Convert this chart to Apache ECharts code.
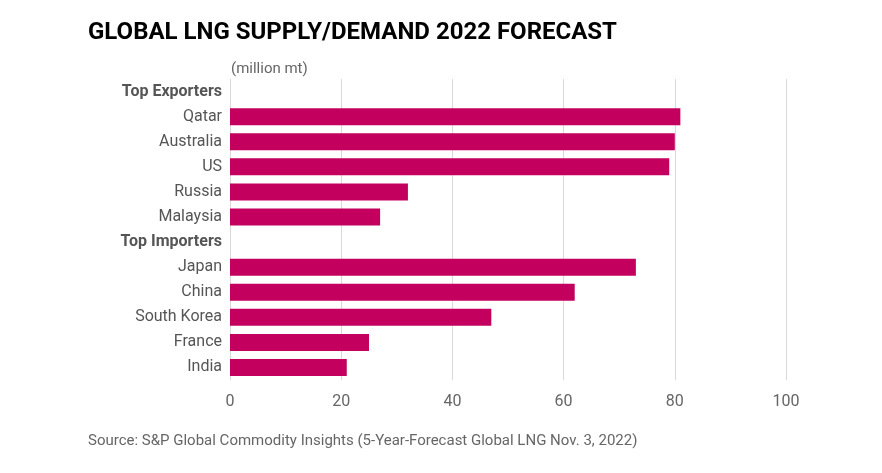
<!DOCTYPE html>
<html>
<head>
<meta charset="utf-8">
<script src="https://cdn.jsdelivr.net/npm/echarts@6/dist/echarts.min.js"></script>
<style>
  html, body { margin: 0; padding: 0; background: #fff; }
  #chart { width: 882px; height: 473px; }
</style>
</head>
<body>
<div id="chart"></div>
<script>
// rows, top to bottom; header rows carry no value
var categories = ['Top Exporters', 'Qatar', 'Australia', 'US', 'Russia', 'Malaysia',
                  'Top Importers', 'Japan', 'China', 'South Korea', 'France', 'India'];
var values = [null, 81, 80, 79, 32, 27, null, 73, 62, 47, 25, 21];
var headers = ['Top Exporters', 'Top Importers'];
var xTicks = [0, 20, 40, 60, 80, 100];

var chart = echarts.init(document.getElementById('chart'));
chart.setOption({
    animation: false,
    textStyle: { fontFamily: 'Roboto' },
    title: [
        { text: 'GLOBAL LNG SUPPLY/DEMAND 2022 FORECAST', left: 83, top: 16,
          textStyle: { fontSize: 24, fontWeight: 'bold', color: '#000', fontFamily: 'Roboto' } },
        { text: '(million mt)', left: 226, top: 57,
          textStyle: { fontSize: 15, fontWeight: 'normal', color: '#666' } },
        { text: 'Source: S&P Global Commodity Insights (5-Year-Forecast Global LNG Nov. 3, 2022)',
          left: 83, top: 429, textStyle: { fontSize: 15, fontWeight: 'normal', color: '#666' } }
    ],
    grid: { left: 230, right: 96, top: 79, bottom: 93 },
    xAxis: {
        type: 'value', min: 0, max: 100, interval: 20,
        axisLine: { show: false }, axisTick: { show: false },
        splitLine: { lineStyle: { color: '#d9d9d9' } },
        axisLabel: { color: '#666', fontSize: 16, margin: 14 }
    },
    yAxis: {
        type: 'category', data: categories, inverse: true,
        axisLine: { show: false }, axisTick: { show: false },
        axisLabel: {
            margin: 8, fontSize: 16, color: '#555',
            formatter: function (v) {
                return headers.indexOf(v) >= 0 ? '{h|' + v + '}' : v;
            },
            rich: { h: { fontWeight: 'bold', fontSize: 16, color: '#555' } }
        }
    },
    series: [{
        type: 'bar', data: values, barWidth: 17,
        itemStyle: { color: '#c4005f' }
    }]
});
</script>
</body>
</html>
